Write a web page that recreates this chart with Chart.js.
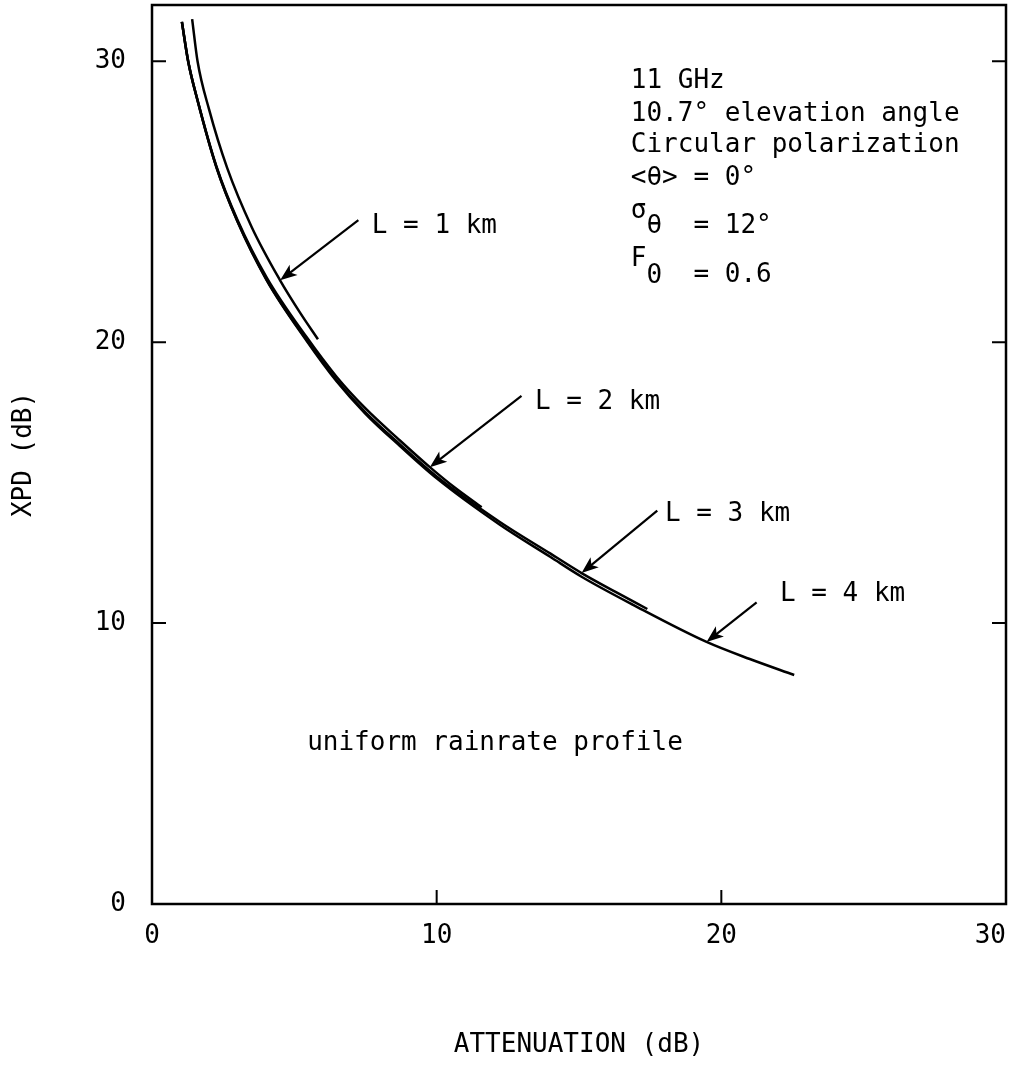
<!DOCTYPE html>
<html>
<head>
<meta charset="utf-8">
<title>XPD vs attenuation, 11 GHz</title>
<script src="https://cdn.jsdelivr.net/npm/chart.js@4.4.1/dist/chart.umd.min.js"></script>
<style>
  html, body { margin: 0; padding: 0; background: #fff; }
  #wrap { width: 1019px; height: 1067px; position: relative; }
</style>
</head>
<body>
<div id="wrap"><canvas id="chart"></canvas></div>
<script>
// XPD (dB) against rain attenuation (dB) for path lengths L = 1..4 km
const attenL1 = [1.41, 1.6, 2.0, 2.64, 3.5, 4.5, 5.2, 5.83];
const xpdL1   = [31.5, 30.0, 28.3, 26.2, 24.1, 22.2, 21.05, 20.1];

const attenL2 = [1.05, 1.27, 1.6, 2.27, 3.0, 4.03, 5.43, 6.49, 7.5, 8.71, 9.76, 10.6, 11.58];
const xpdL2   = [31.4, 30.0, 28.62, 26.24, 24.36, 22.3, 20.18, 18.76, 17.64, 16.5, 15.55, 14.85, 14.12];

const attenL3 = [1.05, 1.27, 1.6, 2.27, 3.0, 4.03, 5.43, 6.49, 7.5, 8.71, 10.0, 12.22, 14.0, 15.09, 16.3, 17.4];
const xpdL3   = [31.4, 30.0, 28.6, 26.2, 24.3, 22.22, 20.08, 18.64, 17.5, 16.36, 15.22, 13.6, 12.47, 11.78, 11.1, 10.5];

const attenL4 = [1.05, 1.27, 1.6, 2.27, 3.0, 4.03, 5.43, 6.49, 7.5, 8.71, 10.0, 12.22, 14.0, 15.09, 16.9, 19.48, 21.0, 22.56];
const xpdL4   = [31.4, 30.0, 28.6, 26.2, 24.3, 22.2, 20.05, 18.6, 17.45, 16.3, 15.15, 13.5, 12.35, 11.65, 10.65, 9.33, 8.72, 8.15];

const seriesNames = ['L = 1 km', 'L = 2 km', 'L = 3 km', 'L = 4 km'];

// Tick values
const xTickValues = [0, 10, 20, 30];
const yTickValues = [0, 10, 20, 30];

// Callout labels with arrows, in data units: text anchor, arrow tail, arrow tip
const callouts = [
  { text: 'L = 1 km', at: [7.72, 24.14], from: [7.25, 24.34], to: [4.5, 22.2] },
  { text: 'L = 2 km', at: [13.45, 17.86], from: [12.98, 18.09], to: [9.76, 15.55] },
  { text: 'L = 3 km', at: [18.02, 13.89], from: [17.75, 14.0], to: [15.09, 11.78] },
  { text: 'L = 4 km', at: [22.06, 11.04], from: [21.24, 10.74], to: [19.48, 9.33] }
];

// Parameter block: [column, pixels below first baseline, text]
const paramAnchor = [16.82, 29.03];
const paramRows = [
  [0, 0, '11 GHz'],
  [0, 33, '10.7\u00B0 elevation angle'],
  [0, 64, 'Circular polarization'],
  [0, 97, '<\u03B8> = 0\u00B0'],
  [0, 130, '\u03C3'],
  [1, 145, '\u03B8'],
  [4, 145, '= 12\u00B0'],
  [0, 178, 'F'],
  [1, 195, '0'],
  [4, 194, '= 0.6']
];

const profileNote = { text: 'uniform rainrate profile', at: [5.45, 5.47] };

const FONT = '"DejaVu Sans Mono", "Liberation Mono", monospace';
const FONT_SIZE = 26;
const INK = '#000';

const toPoints = (xs, ys) => xs.map((x, i) => ({ x, y: ys[i] }));

function curve(label, xs, ys) {
  return {
    label,
    data: toPoints(xs, ys),
    showLine: true,
    borderColor: INK,
    borderWidth: 2.5,
    pointRadius: 0,
    pointHoverRadius: 0,
    fill: false,
    cubicInterpolationMode: 'monotone'
  };
}

// Frame, inward ticks, x tick labels, callouts and notes
const annotations = {
  id: 'annotations',
  afterDraw(chart) {
    const { ctx, chartArea: a, scales: { x, y } } = chart;
    const px = v => x.getPixelForValue(v);
    const py = v => y.getPixelForValue(v);
    ctx.save();
    ctx.strokeStyle = INK;
    ctx.fillStyle = INK;

    // frame
    ctx.lineWidth = 2.5;
    ctx.strokeRect(a.left, a.top, a.right - a.left, a.bottom - a.top);

    // inward tick marks
    const tl = 14;
    ctx.lineWidth = 2;
    ctx.beginPath();
    yTickValues.filter(v => v > 0).forEach(v => {
      const yy = py(v);
      ctx.moveTo(a.left, yy); ctx.lineTo(a.left + tl, yy);
      ctx.moveTo(a.right, yy); ctx.lineTo(a.right - tl, yy);
    });
    xTickValues.filter(v => v > 0 && v < 30).forEach(v => {
      const xx = px(v);
      ctx.moveTo(xx, a.bottom); ctx.lineTo(xx, a.bottom - tl);
    });
    ctx.stroke();

    ctx.font = FONT_SIZE + 'px ' + FONT;
    ctx.textBaseline = 'alphabetic';

    // x tick labels, kept inside the frame on the right
    ctx.textAlign = 'left';
    xTickValues.forEach(v => {
      const s = String(v);
      const w = ctx.measureText(s).width;
      let left = px(v) - w / 2;
      if (left + w > a.right) left = a.right - w;
      ctx.fillText(s, left, a.bottom + 39);
    });

    // callouts
    callouts.forEach(c => {
      const x0 = px(c.from[0]), y0 = py(c.from[1]);
      const x1 = px(c.to[0]), y1 = py(c.to[1]);
      const ang = Math.atan2(y1 - y0, x1 - x0);
      const hl = 17, hw = 6.5;
      ctx.lineWidth = 2.2;
      ctx.beginPath();
      ctx.moveTo(x0, y0);
      ctx.lineTo(x1 - Math.cos(ang) * hl * 0.6, y1 - Math.sin(ang) * hl * 0.6);
      ctx.stroke();
      const bx = x1 - Math.cos(ang) * hl, by = y1 - Math.sin(ang) * hl;
      const nx = -Math.sin(ang), ny = Math.cos(ang);
      ctx.beginPath();
      ctx.moveTo(x1, y1);
      ctx.lineTo(bx + nx * hw, by + ny * hw);
      ctx.lineTo(x1 - Math.cos(ang) * hl * 0.75, y1 - Math.sin(ang) * hl * 0.75);
      ctx.lineTo(bx - nx * hw, by - ny * hw);
      ctx.closePath();
      ctx.fill();
      ctx.textBaseline = 'middle';
      ctx.fillText(c.text, px(c.at[0]), py(c.at[1]));
      ctx.textBaseline = 'alphabetic';
    });

    // parameter block
    const col = ctx.measureText('0').width;
    const bx0 = px(paramAnchor[0]), by0 = py(paramAnchor[1]);
    paramRows.forEach(([c, dy, t]) => ctx.fillText(t, bx0 + c * col, by0 + dy));

    // profile note
    ctx.fillText(profileNote.text, px(profileNote.at[0]), py(profileNote.at[1]));

    ctx.restore();
  }
};

new Chart(document.getElementById('chart'), {
  type: 'scatter',
  data: {
    datasets: [
      curve(seriesNames[0], attenL1, xpdL1),
      curve(seriesNames[1], attenL2, xpdL2),
      curve(seriesNames[2], attenL3, xpdL3),
      curve(seriesNames[3], attenL4, xpdL4)
    ]
  },
  options: {
    responsive: true,
    maintainAspectRatio: false,
    devicePixelRatio: 1,
    animation: false,
    events: [],
    layout: { autoPadding: false, padding: { left: 0, right: 13, top: 5, bottom: 0 } },
    plugins: { legend: { display: false }, tooltip: { enabled: false } },
    scales: {
      x: {
        type: 'linear',
        position: 'bottom',
        min: 0,
        max: 30,
        ticks: { display: false, stepSize: 10 },
        grid: { display: false, drawTicks: false },
        border: { display: false },
        title: {
          display: true,
          text: 'ATTENUATION (dB)',
          color: INK,
          font: { family: FONT, size: FONT_SIZE },
          padding: { top: 0, bottom: 6 }
        },
        afterFit(s) { s.height = 163; s.paddingLeft = 0; s.paddingRight = 0; }
      },
      y: {
        type: 'linear',
        position: 'left',
        min: 0,
        max: 32,
        afterBuildTicks(s) { s.ticks = yTickValues.map(v => ({ value: v })); },
        ticks: {
          color: INK,
          padding: 26,
          font: { family: FONT, size: FONT_SIZE }
        },
        grid: { display: false, drawTicks: false },
        border: { display: false },
        title: {
          display: true,
          text: 'XPD (dB)',
          color: INK,
          font: { family: FONT, size: FONT_SIZE },
          padding: { top: 9, bottom: 0 }
        },
        afterFit(s) { s.width = 152; s.paddingTop = 0; s.paddingBottom = 0; }
      }
    }
  },
  plugins: [annotations]
});
</script>
</body>
</html>
